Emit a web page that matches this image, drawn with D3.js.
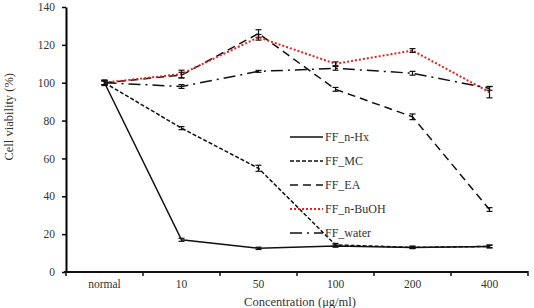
<!DOCTYPE html>
<html>
<head>
<meta charset="utf-8">
<script src="https://cdn.jsdelivr.net/npm/d3@7"></script>
<style>
  body { margin: 0; background: #fff; }
  svg text { font-family: "Liberation Serif", "DejaVu Serif", serif; }
</style>
</head>
<body>
<div id="chart"></div>
<script>
const categories = ["normal", "10", "50", "100", "200", "400"];
const yTicks = [0, 20, 40, 60, 80, 100, 120, 140];

const hx    = [100, 17, 12.5, 13.7, 13, 13.5];
const mc    = [100, 76, 54.8, 14.3, 13, 13.5];
const ea    = [100, 104, 126, 96.5, 82, 33];
const buoh  = [100, 104.6, 124, 110, 117, 95];
const water = [100, 98, 106, 107.6, 105, 97];

const hxErr    = [1, 0.8, 0.6, 0.6, 0.6, 0.8];
const mcErr    = [1, 0.8, 1.6, 0.8, 0.6, 0.6];
const eaErr    = [1, 1.5, 2, 1, 1.5, 1];
const buohErr  = [1.5, 2, 1.5, 1, 1, 3];
const waterErr = [1, 1, 0.5, 1, 1, 1];

const seriesNames = ["FF_n-Hx", "FF_MC", "FF_EA", "FF_n-BuOH", "FF_water"];

const series = [
  {name: seriesNames[0], values: hx, err: hxErr, color: "#111", dash: null, width: 1.5},
  {name: seriesNames[1], values: mc, err: mcErr, color: "#111", dash: "4,2", width: 1.5},
  {name: seriesNames[2], values: ea, err: eaErr, color: "#111", dash: "8,5", width: 1.5},
  {name: seriesNames[3], values: buoh, err: buohErr, color: "#e8201e", dash: "2,2", width: 2},
  {name: seriesNames[4], values: water, err: waterErr, color: "#111", dash: "12,5,2,5", width: 1.5}
];

const width = 534, height = 308;
const marginLeft = 66, marginRight = 6, marginTop = 7, marginBottom = 36;
const font = "Liberation Serif";

const x = d3.scaleBand(categories, [marginLeft, width - marginRight]);
const y = d3.scaleLinear([0, 140], [height - marginBottom, marginTop]);

const svg = d3.select("#chart").append("svg")
    .attr("width", width)
    .attr("height", height)
    .attr("viewBox", [0, 0, width, height]);

// y axis
svg.append("g")
    .attr("transform", `translate(${marginLeft},0)`)
    .call(d3.axisLeft(y).tickValues(yTicks).tickSize(4).tickSizeOuter(0).tickPadding(7))
    .attr("font-family", font)
    .call(g => g.select(".domain").attr("stroke-width", 2))
    .call(g => g.selectAll(".tick line").attr("stroke-width", 1.5))
    .call(g => g.selectAll(".tick text").attr("font-size", 11.5).attr("fill", "#333"));

// x axis with ticks at band edges
const xAxisG = svg.append("g")
    .attr("transform", `translate(0,${y(0)})`);
xAxisG.append("line")
    .attr("x1", marginLeft - 2).attr("x2", width - marginRight)
    .attr("stroke", "#111").attr("stroke-width", 2);
xAxisG.selectAll(".edge")
  .data(categories.concat([null]))
  .join("line")
    .attr("x1", (d, i) => i < categories.length ? x(d) : x(categories[i - 1]) + x.bandwidth())
    .attr("x2", (d, i) => i < categories.length ? x(d) : x(categories[i - 1]) + x.bandwidth())
    .attr("y1", -1).attr("y2", 4)
    .attr("stroke", "#111").attr("stroke-width", 1.5);
xAxisG.selectAll(".lbl")
  .data(categories)
  .join("text")
    .attr("x", d => x(d) + x.bandwidth() / 2)
    .attr("y", 16)
    .attr("text-anchor", "middle")
    .attr("font-family", font)
    .attr("font-size", 11.5)
    .attr("fill", "#333")
    .text(d => d);

// axis titles
svg.append("text")
    .attr("x", 300)
    .attr("y", 306)
    .attr("text-anchor", "middle")
    .attr("font-family", font)
    .attr("font-size", 12.5)
    .attr("fill", "#333")
    .text("Concentration (μg/ml)");

svg.append("text")
    .attr("transform", `translate(13,${y(82)}) rotate(-90)`)
    .attr("text-anchor", "middle")
    .attr("font-family", font)
    .attr("font-size", 12.5)
    .attr("fill", "#333")
    .text("Cell viability (%)");

const cx = d => x(d) + x.bandwidth() / 2;
const line = d3.line().x((v, i) => cx(categories[i])).y(v => y(v));

for (const s of series) {
  svg.append("path")
      .attr("d", line(s.values))
      .attr("fill", "none")
      .attr("stroke", s.color)
      .attr("stroke-width", s.width)
      .attr("stroke-dasharray", s.dash);

  const eb = svg.append("g").attr("stroke", "#111").attr("stroke-width", 1.2);
  s.values.forEach((v, i) => {
    const px = cx(categories[i]);
    eb.append("line").attr("x1", px).attr("x2", px)
      .attr("y1", y(v - s.err[i])).attr("y2", y(v + s.err[i]));
    eb.append("line").attr("x1", px - 3).attr("x2", px + 3)
      .attr("y1", y(v - s.err[i])).attr("y2", y(v - s.err[i]));
    eb.append("line").attr("x1", px - 3).attr("x2", px + 3)
      .attr("y1", y(v + s.err[i])).attr("y2", y(v + s.err[i]));
  });
}

// legend
const legend = svg.append("g").attr("transform", "translate(290,137)");
series.forEach((s, i) => {
  const row = legend.append("g").attr("transform", `translate(0,${i * 24})`);
  row.append("line")
      .attr("x1", 0).attr("x2", 33)
      .attr("stroke", s.color)
      .attr("stroke-width", s.width)
      .attr("stroke-dasharray", s.dash);
  row.append("text")
      .attr("x", 35)
      .attr("y", 4)
      .attr("font-family", font)
      .attr("font-size", 12)
      .attr("fill", "#333")
      .text(s.name);
});
</script>
</body>
</html>
